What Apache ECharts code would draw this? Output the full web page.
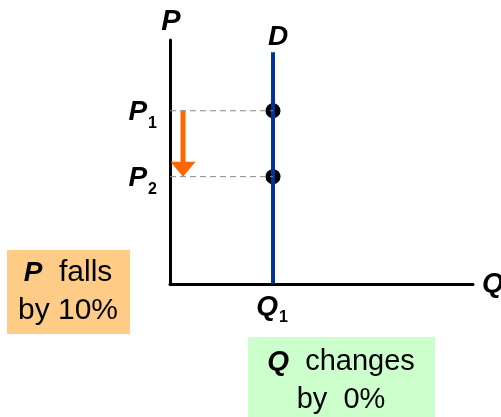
<!DOCTYPE html>
<html>
<head>
<meta charset="utf-8">
<script src="https://cdn.jsdelivr.net/npm/echarts@6/dist/echarts.min.js"></script>
<style>
html, body {margin: 0; padding: 0; background: #fff;}
#main {width: 501px; height: 417px;}
</style>
</head>
<body>
<div id="main"></div>
<script>
var demandQ = 3.4;
var demandTop = 9.5;
var prices = [7.1, 4.4];
var priceSubs = ['1', '2'];
var qSubs = ['1'];
var arrowX = 0.43;
var boxP = ['{b|P}  falls', 'by 10%'];
var boxQ = ['{b|Q}  changes', 'by  0%'];

var font = 'Liberation Sans, Arial, sans-serif';
var e = echarts.init(document.getElementById('main'));

var subRich = {
    p: {fontFamily: font, fontSize: 28, fontWeight: 'bold', fontStyle: 'italic', color: '#000'},
    s: {fontFamily: font, fontSize: 16, fontWeight: 'bold', color: '#000', padding: [22, 0, 0, 1]}
};
var nameStyle = {fontFamily: font, fontSize: 28, fontWeight: 'bold', fontStyle: 'italic', color: '#000'};

e.setOption({
    animation: false,
    grid: {left: 170, right: 28, top: 40, bottom: 133, outerBoundsMode: 'none', containLabel: false},
    xAxis: {
        type: 'value', min: 0, max: 10,
        name: 'Q', nameLocation: 'end', nameGap: 9,
        nameTextStyle: nameStyle,
        axisLine: {lineStyle: {color: '#000', width: 3}},
        axisTick: {show: false}, axisLabel: {show: false}, splitLine: {show: false}
    },
    yAxis: {
        type: 'value', min: 0, max: 10,
        name: 'P', nameLocation: 'end', nameGap: 4,
        nameTextStyle: {fontFamily: font, fontSize: 29, fontWeight: 'bold', fontStyle: 'italic', color: '#000', padding: [0, 0, 0, 2]},
        axisLine: {lineStyle: {color: '#000', width: 3}},
        axisTick: {show: false}, axisLabel: {show: false}, splitLine: {show: false}
    },
    series: [
        {
            type: 'line', symbol: 'none', silent: true,
            data: [[demandQ, 0], [demandQ, demandTop]],
            lineStyle: {color: '#003399', width: 4}
        },
        {
            type: 'line', symbol: 'none', silent: true,
            data: [[0, prices[0]], [demandQ, prices[0]]],
            lineStyle: {color: '#888', width: 1, type: [6, 4]}
        },
        {
            type: 'line', symbol: 'none', silent: true,
            data: [[0, prices[1]], [demandQ, prices[1]]],
            lineStyle: {color: '#888', width: 1, type: [6, 4]}
        },
        {
            type: 'scatter', symbolSize: 15, silent: true,
            itemStyle: {color: '#000', opacity: 1},
            data: prices.map(function (p) { return [demandQ, p]; })
        },
        {
            type: 'custom', silent: true,
            data: [[arrowX, prices[0], prices[1]]],
            renderItem: function (params, api) {
                var s = api.coord([api.value(0), api.value(1)]);
                var t = api.coord([api.value(0), api.value(2)]);
                return {
                    type: 'group',
                    children: [
                        {type: 'rect', shape: {x: s[0] - 2.5, y: s[1], width: 5, height: t[1] - s[1] - 14}, style: {fill: '#FF6600'}},
                        {type: 'polygon', shape: {points: [[t[0] - 12.5, t[1] - 15], [t[0] + 12.5, t[1] - 15], [t[0], t[1]]]}, style: {fill: '#FF6600'}}
                    ]
                };
            }
        },
        {
            type: 'scatter', symbolSize: 0, silent: true,
            itemStyle: {opacity: 1},
            data: prices.map(function (p, i) {
                return {
                    value: [0, p],
                    label: {show: true, position: 'left', distance: 13, offset: [0, 2], formatter: '{p|P}{s|' + priceSubs[i] + '}', rich: subRich}
                };
            })
        },
        {
            type: 'scatter', symbolSize: 0, silent: true,
            itemStyle: {opacity: 1},
            data: [
                {value: [demandQ, 0], label: {show: true, position: 'bottom', distance: 4, offset: [-1, 0], formatter: '{p|Q}{s|' + qSubs[0] + '}', rich: subRich}},
                {value: [demandQ, demandTop], label: {show: true, position: 'top', distance: 1, offset: [5, 0], formatter: 'D', fontFamily: font, fontSize: 28, fontWeight: 'bold', fontStyle: 'italic', color: '#000'}}
            ]
        }
    ],
    graphic: [
        {
            type: 'group', left: 7, top: 250,
            children: [
                {type: 'rect', shape: {x: 0, y: 0, width: 123, height: 84}, style: {fill: '#FFCC88'}},
                {type: 'text', x: 61, y: 42, style: {
                    text: boxP.join('\n'), fontFamily: font, fontSize: 30, lineHeight: 38, fill: '#000',
                    align: 'center', verticalAlign: 'middle',
                    rich: {b: {fontFamily: font, fontSize: 28, fontWeight: 'bold', fontStyle: 'italic', fill: '#000'}}
                }}
            ]
        },
        {
            type: 'group', left: 248, top: 337,
            children: [
                {type: 'rect', shape: {x: 0, y: 0, width: 187, height: 80}, style: {fill: '#CCFFCC'}},
                {type: 'text', x: 93, y: 44, style: {
                    text: boxQ.join('\n'), fontFamily: font, fontSize: 29, lineHeight: 38, fill: '#000',
                    align: 'center', verticalAlign: 'middle',
                    rich: {b: {fontFamily: font, fontSize: 28, fontWeight: 'bold', fontStyle: 'italic', fill: '#000'}}
                }}
            ]
        }
    ]
});
window.onresize = function () {
    e.resize();
};
</script>
</body>
</html>
